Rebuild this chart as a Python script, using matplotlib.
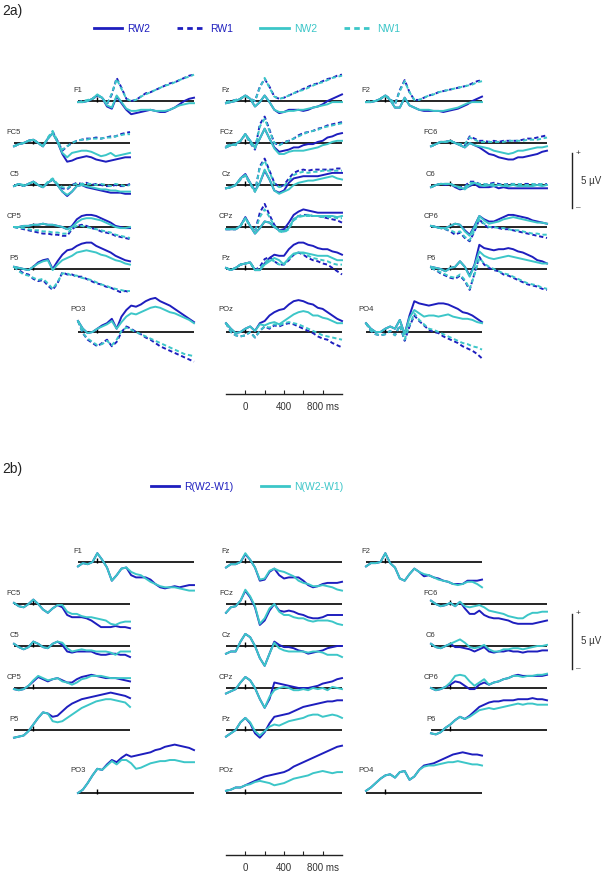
import matplotlib.pyplot as plt
from matplotlib.lines import Line2D

plt.rcParams["font.family"] = ["Liberation Sans", "DejaVu Sans"]

# ---- data: ERP amplitudes (µV), sampled every 50 ms from -200 to 1000 ms ----
TIMES = list(range(-200, 1001, 50))

RW2 = {
    "F1":  [-0.1,-0.1,0.0,0.2,0.5,0.3,-0.5,-0.7,0.4,-0.2,-0.8,-1.2,-1.1,-1.0,-0.9,-0.8,-0.9,-1.0,-1.0,-0.8,-0.6,-0.3,0.0,0.2,0.3],
    "Fz":  [-0.2,-0.1,0.0,0.2,0.5,0.2,-0.5,-0.1,0.5,-0.1,-0.8,-1.1,-1.0,-0.8,-0.8,-0.8,-0.9,-0.8,-0.6,-0.5,-0.3,0.0,0.2,0.4,0.6],
    "F2":  [-0.1,-0.1,0.0,0.2,0.5,0.1,-0.6,-0.6,0.3,-0.4,-0.6,-0.8,-0.9,-0.9,-0.9,-0.9,-1.0,-0.9,-0.8,-0.7,-0.5,-0.3,0.0,0.2,0.4],
    "FC5": [-0.3,-0.1,0.0,0.2,0.3,0.0,-0.3,0.4,0.9,0.1,-1.0,-1.7,-1.6,-1.4,-1.3,-1.2,-1.3,-1.5,-1.6,-1.7,-1.6,-1.5,-1.4,-1.3,-1.3],
    "FCz": [-0.4,-0.2,-0.1,0.2,0.8,0.2,-0.4,0.4,1.3,0.4,-0.4,-0.8,-0.7,-0.6,-0.4,-0.4,-0.2,-0.1,-0.1,0.1,0.2,0.5,0.6,0.8,0.9],
    "FC6": [-0.3,-0.1,0.1,0.1,0.2,0.0,-0.2,-0.4,0.0,-0.2,-0.4,-0.7,-1.0,-1.1,-1.3,-1.4,-1.5,-1.5,-1.3,-1.3,-1.2,-1.1,-1.0,-0.8,-0.7],
    "C5":  [-0.1,0.1,-0.1,0.1,0.3,0.0,-0.2,0.2,0.5,0.0,-0.6,-1.0,-0.6,-0.1,0.0,-0.2,-0.3,-0.4,-0.5,-0.6,-0.7,-0.7,-0.7,-0.8,-0.8],
    "Cz":  [-0.3,-0.2,0.0,0.6,1.0,0.2,-0.5,0.2,1.3,0.5,-0.5,-0.7,-0.5,0.2,0.6,0.7,0.8,0.8,0.8,0.8,0.9,1.0,1.1,1.1,1.1],
    "C6":  [-0.2,0.0,0.1,0.0,0.1,-0.2,-0.4,-0.3,-0.1,0.1,-0.2,-0.2,-0.2,-0.1,-0.3,-0.2,-0.3,-0.3,-0.3,-0.3,-0.3,-0.3,-0.3,-0.3,-0.3],
    "CP5": [0.0,0.0,0.1,0.1,0.2,0.2,0.3,0.2,0.2,0.1,0.0,-0.2,0.1,0.7,1.0,1.1,1.1,1.0,0.8,0.6,0.4,0.1,0.0,-0.1,-0.1],
    "CPz": [-0.2,-0.2,-0.2,0.1,0.9,0.1,-0.6,-0.1,0.5,0.4,0.0,-0.3,-0.2,0.4,1.1,1.4,1.6,1.5,1.4,1.3,1.3,1.3,1.3,1.3,1.3],
    "CP6": [0.1,0.0,-0.1,-0.1,0.1,0.3,0.2,-0.3,-0.7,0.1,1.0,0.7,0.5,0.5,0.7,0.9,1.1,1.1,1.0,0.9,0.8,0.6,0.5,0.4,0.3],
    "P5":  [0.2,0.1,0.0,-0.1,0.2,0.6,0.8,0.9,0.0,0.7,1.3,1.7,1.8,2.1,2.3,2.4,2.4,2.1,1.9,1.7,1.5,1.2,1.0,0.8,0.7],
    "Pz":  [0.1,-0.1,0.1,0.4,0.5,0.6,-0.1,-0.1,0.5,1.0,1.3,1.2,1.2,1.8,2.2,2.4,2.4,2.2,2.1,1.9,1.8,1.8,1.6,1.5,1.3],
    "P6":  [0.2,0.1,0.0,-0.2,0.1,0.2,0.7,0.2,-0.6,0.4,2.2,1.9,1.8,1.7,1.8,1.8,1.9,1.8,1.6,1.5,1.3,1.1,0.8,0.7,0.5],
    "PO3": [1.0,0.3,-0.1,0.0,0.3,0.6,0.8,1.2,0.3,1.4,2.0,2.4,2.3,2.5,2.8,3.0,3.1,2.8,2.6,2.4,2.1,1.8,1.5,1.2,0.9],
    "POz": [0.8,0.3,-0.1,0.0,0.3,0.5,0.1,0.8,1.0,1.5,1.8,2.0,2.1,2.5,2.8,2.9,2.8,2.6,2.5,2.2,2.1,1.8,1.5,1.2,1.0],
    "PO4": [0.8,0.3,0.0,0.0,0.3,0.5,0.3,1.1,-0.2,1.5,2.8,2.6,2.5,2.4,2.5,2.6,2.6,2.5,2.3,2.1,1.8,1.7,1.5,1.2,0.9],
}

RW1 = {
    "F1":  [-0.1,0.0,0.0,0.2,0.5,0.3,-0.3,0.6,2.1,1.2,0.2,0.0,0.1,0.4,0.7,0.8,1.0,1.2,1.4,1.6,1.7,1.9,2.1,2.3,2.4],
    "Fz":  [-0.1,0.0,0.1,0.2,0.5,0.2,0.0,1.3,2.0,1.3,0.4,0.2,0.3,0.5,0.7,0.9,1.1,1.3,1.5,1.6,1.8,2.0,2.1,2.3,2.4],
    "F2":  [-0.1,0.0,0.0,0.2,0.5,0.2,-0.3,1.0,1.9,0.8,0.1,0.1,0.3,0.5,0.6,0.8,0.9,1.0,1.1,1.2,1.3,1.4,1.6,1.8,1.9],
    "FC5": [-0.3,-0.1,0.0,0.2,0.3,0.0,-0.3,0.4,1.0,0.2,-0.7,-0.3,0.0,0.2,0.3,0.4,0.4,0.5,0.4,0.5,0.6,0.6,0.8,0.9,1.0],
    "FCz": [-0.3,-0.1,-0.2,0.2,0.8,0.0,-0.6,1.7,2.4,1.2,0.0,-0.2,0.1,0.2,0.4,0.7,0.9,1.0,1.1,1.3,1.4,1.6,1.7,1.8,1.9],
    "FC6": [-0.3,-0.1,0.1,0.1,0.2,0.0,-0.1,-0.2,0.6,0.4,0.2,0.2,0.1,0.2,0.1,0.2,0.2,0.2,0.2,0.3,0.4,0.4,0.5,0.6,0.7],
    "C5":  [-0.1,0.1,-0.1,0.1,0.3,0.0,-0.2,0.2,0.5,0.0,-0.3,-0.4,0.0,0.2,0.1,0.2,0.0,0.1,0.0,-0.1,-0.1,0.0,-0.1,-0.1,0.1],
    "Cz":  [-0.3,-0.2,0.0,0.5,0.9,0.1,-0.6,1.7,2.4,1.3,0.2,-0.2,0.0,0.6,1.1,1.3,1.4,1.3,1.4,1.4,1.4,1.4,1.4,1.5,1.5],
    "C6":  [-0.2,0.0,0.1,0.1,0.1,-0.1,-0.2,-0.1,0.3,0.3,0.1,0.0,0.1,0.2,0.1,0.0,0.1,0.1,0.0,0.1,0.1,0.0,0.1,0.0,0.1],
    "CP5": [0.0,-0.1,-0.2,-0.3,-0.4,-0.5,-0.6,-0.6,-0.7,-0.7,-0.8,-0.8,-0.2,0.1,0.2,0.1,-0.1,-0.2,-0.4,-0.5,-0.6,-0.8,-0.9,-1.0,-1.1],
    "CPz": [-0.2,-0.2,-0.2,0.1,0.8,0.1,-0.4,1.3,2.1,1.1,0.2,-0.3,-0.4,-0.1,0.7,1.0,1.1,1.1,1.0,1.0,0.9,0.8,0.7,0.6,0.4],
    "CP6": [0.1,0.0,-0.1,-0.2,-0.4,-0.7,-0.5,-1.0,-1.3,-0.4,0.7,0.2,-0.1,0.0,-0.1,-0.2,-0.2,-0.3,-0.4,-0.5,-0.6,-0.7,-0.8,-0.9,-1.0],
    "P5":  [0.2,-0.1,-0.4,-0.5,-0.9,-1.1,-1.0,-1.5,-1.9,-1.3,-0.3,-0.5,-0.5,-0.7,-0.7,-0.9,-1.1,-1.3,-1.4,-1.6,-1.7,-1.9,-2.1,-2.0,-2.1],
    "Pz":  [0.1,-0.1,0.1,0.4,0.5,0.6,-0.1,0.2,0.9,1.1,0.7,0.4,0.4,0.8,1.3,1.5,1.3,1.0,0.8,0.7,0.5,0.4,0.1,-0.2,-0.5],
    "P6":  [0.1,-0.1,-0.4,-0.6,-0.8,-0.9,-0.6,-1.1,-1.9,-0.4,1.1,0.4,0.1,-0.1,-0.2,-0.5,-0.6,-0.8,-1.0,-1.2,-1.4,-1.5,-1.6,-1.8,-1.9],
    "PO3": [1.0,-0.1,-0.7,-1.0,-1.3,-1.0,-0.7,-1.3,-0.9,0.0,0.5,0.3,0.0,-0.2,-0.5,-0.7,-1.0,-1.3,-1.5,-1.7,-1.9,-2.1,-2.3,-2.5,-2.7],
    "POz": [0.8,0.0,-0.3,-0.4,-0.3,0.0,-0.5,0.1,0.5,0.3,0.6,0.5,0.7,0.8,0.7,0.5,0.3,0.1,-0.1,-0.4,-0.6,-0.7,-1.0,-1.2,-1.4],
    "PO4": [0.8,0.1,-0.2,-0.3,-0.2,0.1,-0.3,0.6,-0.8,0.5,1.5,1.0,0.6,0.2,0.0,-0.1,-0.4,-0.6,-0.8,-1.0,-1.3,-1.5,-1.7,-2.0,-2.4],
}

NW2 = {
    "F1":  [-0.1,-0.1,0.0,0.2,0.6,0.3,-0.4,-0.6,0.5,-0.1,-0.7,-0.9,-0.9,-0.8,-0.8,-0.8,-0.9,-0.9,-0.9,-0.8,-0.6,-0.4,-0.3,-0.2,-0.2],
    "Fz":  [-0.2,-0.1,0.0,0.2,0.5,0.2,-0.5,-0.1,0.5,-0.1,-0.8,-1.0,-1.0,-0.9,-0.9,-0.8,-0.8,-0.7,-0.6,-0.5,-0.4,-0.3,-0.1,-0.1,-0.1],
    "F2":  [-0.1,-0.1,0.0,0.2,0.5,0.1,-0.6,-0.6,0.3,-0.4,-0.6,-0.8,-0.8,-0.8,-0.9,-0.9,-0.9,-0.8,-0.7,-0.6,-0.4,-0.2,-0.1,-0.1,-0.1],
    "FC5": [-0.3,-0.1,0.0,0.2,0.3,0.0,-0.3,0.4,0.9,0.1,-0.9,-1.3,-0.9,-0.8,-0.7,-0.7,-0.8,-1.0,-1.2,-1.1,-0.9,-1.2,-1.1,-1.0,-0.9],
    "FCz": [-0.4,-0.2,-0.1,0.2,0.8,0.2,-0.4,0.4,1.3,0.4,-0.5,-1.0,-1.0,-0.8,-0.7,-0.7,-0.7,-0.6,-0.5,-0.4,-0.2,-0.1,0.1,0.2,0.2],
    "FC6": [-0.3,-0.1,0.1,0.1,0.2,0.0,-0.2,-0.4,0.0,-0.2,-0.3,-0.4,-0.5,-0.7,-0.8,-0.9,-1.0,-0.9,-0.7,-0.7,-0.6,-0.5,-0.4,-0.4,-0.3],
    "C5":  [-0.1,0.1,-0.1,0.1,0.3,0.0,-0.2,0.2,0.5,0.0,-0.6,-0.9,-0.6,-0.1,0.0,-0.1,-0.2,-0.3,-0.4,-0.4,-0.5,-0.5,-0.6,-0.6,-0.6],
    "Cz":  [-0.3,-0.2,0.0,0.6,0.9,0.2,-0.6,0.2,1.4,0.5,-0.5,-0.8,-0.6,-0.4,0.0,0.2,0.3,0.4,0.4,0.5,0.6,0.7,0.8,0.6,0.5],
    "C6":  [-0.2,0.0,0.1,0.1,0.1,-0.1,-0.2,-0.4,0.0,0.2,0.0,-0.1,0.0,-0.1,0.0,-0.1,-0.1,0.0,-0.1,-0.1,-0.1,-0.1,0.0,-0.1,0.0],
    "CP5": [0.0,0.0,0.1,0.1,0.2,0.2,0.3,0.2,0.2,0.1,0.0,-0.2,0.0,0.4,0.7,0.8,0.8,0.7,0.6,0.4,0.2,0.0,-0.1,-0.1,0.0],
    "CPz": [-0.2,-0.2,-0.2,0.1,0.8,0.1,-0.6,-0.1,0.5,0.4,0.0,-0.3,-0.4,-0.1,0.7,1.0,1.0,1.1,1.0,1.0,1.0,1.0,1.0,0.9,1.0],
    "CP6": [0.1,0.0,-0.1,-0.1,0.1,0.3,0.2,-0.4,-0.8,0.0,1.0,0.6,0.3,0.4,0.5,0.7,0.8,0.9,0.8,0.7,0.6,0.5,0.4,0.4,0.3],
    "P5":  [0.2,0.1,0.0,-0.1,0.2,0.5,0.7,0.8,-0.1,0.4,0.8,1.0,1.2,1.5,1.6,1.7,1.6,1.5,1.3,1.2,1.0,0.8,0.7,0.5,0.4],
    "Pz":  [0.1,-0.1,0.1,0.4,0.5,0.6,-0.1,-0.1,0.4,0.7,1.0,0.8,0.4,1.0,1.4,1.5,1.5,1.4,1.3,1.2,1.2,1.2,1.0,0.8,0.8],
    "P6":  [0.2,0.1,0.0,-0.2,0.1,0.2,0.7,0.2,-0.7,0.3,1.6,1.2,1.0,0.9,1.0,1.1,1.2,1.1,1.0,0.9,0.8,0.7,0.6,0.5,0.5],
    "PO3": [1.0,0.3,-0.1,0.0,0.3,0.5,0.7,1.0,0.3,0.9,1.4,1.7,1.6,1.8,2.0,2.2,2.3,2.2,2.0,1.8,1.7,1.5,1.3,1.1,0.8],
    "POz": [0.8,0.3,-0.1,0.0,0.3,0.5,0.1,0.7,0.6,0.8,0.9,0.7,1.0,1.3,1.6,1.8,1.9,1.8,1.5,1.5,1.3,1.2,1.0,0.8,0.8],
    "PO4": [0.8,0.3,0.0,0.0,0.3,0.5,0.3,1.1,-0.2,1.3,2.0,1.7,1.4,1.5,1.5,1.4,1.5,1.6,1.4,1.3,1.2,1.2,1.1,0.9,0.8],
}

NW1 = {
    "F1":  [-0.1,0.0,0.1,0.2,0.5,0.3,-0.3,0.7,2.0,1.1,0.2,0.0,0.1,0.4,0.6,0.8,1.0,1.2,1.4,1.5,1.7,1.9,2.1,2.2,2.4],
    "Fz":  [-0.1,0.0,0.1,0.2,0.5,0.2,0.0,1.2,2.1,1.2,0.4,0.2,0.3,0.5,0.7,0.9,1.0,1.2,1.4,1.6,1.7,1.9,2.1,2.2,2.3],
    "F2":  [-0.1,0.0,0.0,0.2,0.5,0.2,-0.3,0.9,1.8,0.8,0.1,0.1,0.3,0.5,0.6,0.8,0.9,1.0,1.1,1.2,1.3,1.4,1.5,1.7,1.8],
    "FC5": [-0.3,-0.1,0.0,0.2,0.3,0.0,-0.3,0.5,1.1,0.2,-0.6,-0.3,0.0,0.2,0.3,0.3,0.4,0.4,0.4,0.5,0.5,0.6,0.7,0.8,0.8],
    "FCz": [-0.3,-0.1,-0.2,0.2,0.8,0.0,-0.5,1.5,2.2,1.1,0.0,-0.2,0.0,0.2,0.4,0.6,0.8,1.0,1.1,1.2,1.4,1.5,1.6,1.7,1.8],
    "FC6": [-0.3,-0.1,0.1,0.1,0.2,0.0,-0.1,-0.1,0.5,0.3,0.1,0.1,0.1,0.1,0.1,0.1,0.2,0.2,0.2,0.2,0.3,0.3,0.3,0.4,0.5],
    "C5":  [-0.1,0.1,0.0,0.1,0.3,0.0,-0.2,0.3,0.6,0.1,-0.2,-0.3,0.0,0.1,0.1,0.1,0.1,0.0,0.1,0.0,-0.1,0.1,0.0,-0.1,0.0],
    "Cz":  [-0.3,-0.2,0.0,0.5,0.9,0.1,-0.6,1.6,2.2,1.2,0.1,-0.2,-0.1,0.4,0.9,1.1,1.2,1.1,1.2,1.2,1.3,1.3,1.3,1.3,1.3],
    "C6":  [-0.2,0.0,0.1,0.1,0.1,-0.1,-0.3,-0.2,0.2,0.2,0.1,0.1,0.0,0.1,0.0,0.1,0.0,0.1,0.1,0.0,0.0,0.1,0.0,0.1,0.0],
    "CP5": [0.0,-0.1,-0.1,-0.2,-0.3,-0.3,-0.4,-0.4,-0.5,-0.5,-0.6,-0.6,-0.1,0.1,0.1,0.0,-0.1,-0.2,-0.3,-0.4,-0.5,-0.7,-0.8,-0.9,-1.0],
    "CPz": [-0.2,-0.2,-0.2,0.1,0.8,0.1,-0.4,0.9,1.6,0.9,0.1,-0.4,-0.5,-0.2,0.6,0.9,1.0,1.0,1.0,1.0,0.9,0.9,0.9,0.8,0.8],
    "CP6": [0.1,0.0,-0.1,-0.2,-0.3,-0.5,-0.4,-0.9,-1.2,-0.3,0.7,0.3,0.0,0.0,-0.1,-0.1,-0.2,-0.3,-0.3,-0.4,-0.5,-0.6,-0.6,-0.7,-0.7],
    "P5":  [0.2,-0.2,-0.5,-0.6,-0.8,-1.0,-0.9,-1.3,-1.8,-1.2,-0.4,-0.4,-0.6,-0.6,-0.8,-0.9,-1.0,-1.2,-1.4,-1.5,-1.7,-1.8,-1.9,-2.0,-2.0],
    "Pz":  [0.1,-0.1,0.1,0.4,0.5,0.6,-0.1,0.0,0.6,0.9,0.7,0.4,0.5,0.9,1.3,1.5,1.4,1.2,1.0,0.9,0.8,0.7,0.5,0.4,0.4],
    "P6":  [0.1,-0.1,-0.3,-0.5,-0.7,-0.8,-0.5,-1.0,-1.8,-0.5,1.0,0.5,0.2,0.0,-0.2,-0.4,-0.5,-0.7,-0.9,-1.1,-1.3,-1.4,-1.5,-1.7,-1.8],
    "PO3": [1.0,-0.1,-0.6,-0.9,-1.2,-1.1,-0.8,-1.2,-0.7,0.1,0.4,0.2,0.0,-0.2,-0.4,-0.6,-0.8,-1.0,-1.2,-1.4,-1.6,-1.8,-2.0,-2.1,-2.2],
    "POz": [0.8,0.0,-0.3,-0.4,-0.3,0.0,-0.5,0.1,0.5,0.4,0.7,0.6,0.8,0.9,0.8,0.7,0.5,0.3,0.1,-0.1,-0.3,-0.4,-0.5,-0.6,-0.7],
    "PO4": [0.8,0.1,-0.2,-0.3,-0.2,0.1,-0.3,0.6,-0.7,0.6,1.7,1.1,0.7,0.3,0.2,0.0,-0.2,-0.4,-0.6,-0.8,-1.0,-1.1,-1.3,-1.4,-1.6],
}

# difference waves (W2 - W1), panel 2b
R_DIFF = {
    "F1":  [-0.4,-0.1,-0.2,0.0,0.8,0.2,-0.5,-1.7,-1.2,-0.6,-0.5,-1.2,-1.4,-1.4,-1.4,-1.6,-2.0,-2.3,-2.4,-2.3,-2.2,-2.3,-2.2,-2.1,-2.1],
    "Fz":  [-0.5,-0.2,-0.2,0.0,0.7,0.2,-0.5,-1.7,-1.6,-0.9,-0.6,-1.2,-1.5,-1.4,-1.4,-1.4,-1.7,-2.1,-2.3,-2.2,-2.0,-1.9,-1.9,-1.9,-1.8],
    "F2":  [-0.4,-0.1,-0.1,0.0,0.8,-0.1,-0.5,-1.5,-1.7,-1.1,-0.6,-0.9,-1.3,-1.2,-1.4,-1.5,-1.7,-1.8,-2.0,-2.0,-2.0,-1.7,-1.7,-1.7,-1.6],
    "FC5": [0.1,-0.2,-0.3,0.0,0.4,0.0,-0.5,-0.8,-0.4,-0.1,-0.3,-1.0,-1.2,-1.2,-1.2,-1.3,-1.5,-1.8,-2.1,-2.1,-2.1,-2.0,-2.1,-2.1,-2.2],
    "FCz": [-0.8,-0.3,-0.2,0.3,1.2,0.6,-0.3,-1.9,-1.5,-0.6,0.0,-0.6,-0.7,-0.6,-0.7,-0.9,-1.0,-1.2,-1.3,-1.3,-1.2,-1.0,-1.0,-1.0,-1.0],
    "FC6": [0.3,0.0,-0.2,-0.1,0.1,-0.2,0.2,-0.4,-0.9,-0.9,-0.6,-1.0,-1.2,-1.3,-1.3,-1.4,-1.5,-1.7,-1.8,-1.8,-1.8,-1.8,-1.7,-1.6,-1.5],
    "C5":  [0.2,-0.1,-0.3,-0.1,0.4,0.2,-0.1,-0.2,0.2,0.4,0.1,-0.5,-0.6,-0.5,-0.5,-0.5,-0.5,-0.7,-0.8,-0.8,-0.7,-0.7,-0.8,-0.8,-1.0],
    "Cz":  [-0.7,-0.5,-0.5,0.4,1.1,0.8,0.0,-1.1,-1.8,-0.7,0.4,0.1,-0.1,-0.1,-0.2,-0.4,-0.5,-0.7,-0.6,-0.5,-0.4,-0.2,-0.1,0.0,0.0],
    "C6":  [0.2,-0.1,-0.2,0.0,0.2,-0.1,-0.1,-0.2,-0.3,-0.5,-0.3,-0.1,-0.5,-0.6,-0.5,-0.5,-0.4,-0.5,-0.5,-0.6,-0.5,-0.5,-0.5,-0.4,-0.4],
    "CP5": [-0.1,-0.2,-0.1,0.2,0.6,1.0,0.8,0.6,0.8,0.9,0.7,0.5,0.5,0.8,1.0,1.1,1.2,1.1,1.0,0.9,0.9,0.9,0.8,0.7,0.6],
    "CPz": [-0.5,-0.3,-0.1,0.5,1.0,0.7,0.0,-1.0,-1.8,-1.0,0.5,0.4,0.3,0.2,0.1,0.0,0.0,0.0,0.1,0.2,0.4,0.5,0.6,0.8,0.9],
    "CP6": [0.0,-0.2,-0.1,0.1,0.3,0.6,0.5,0.2,-0.1,-0.1,0.3,0.5,0.3,0.5,0.6,0.8,0.9,1.1,1.2,1.1,1.1,1.1,1.1,1.1,1.2],
    "P5":  [-0.7,-0.6,-0.5,-0.1,0.5,1.1,1.6,1.5,1.2,1.3,1.7,2.1,2.4,2.6,2.8,2.9,3.0,3.1,3.2,3.3,3.4,3.3,3.2,3.1,2.9],
    "Pz":  [-0.6,-0.3,0.0,0.7,1.1,0.6,-0.3,-0.7,-0.2,0.6,1.2,1.3,1.4,1.5,1.7,1.9,2.1,2.2,2.3,2.4,2.5,2.6,2.6,2.7,2.7],
    "P6":  [-0.3,-0.4,-0.2,0.2,0.5,0.9,1.2,1.0,1.3,1.7,2.1,2.3,2.5,2.6,2.6,2.7,2.7,2.7,2.8,2.8,2.8,2.9,2.8,2.8,2.7],
    "PO3": [0.0,0.3,0.9,1.6,2.2,2.1,2.6,3.0,2.8,3.2,3.5,3.3,3.4,3.5,3.6,3.7,3.9,4.0,4.2,4.3,4.4,4.3,4.2,4.1,3.9],
    "POz": [0.2,0.3,0.5,0.5,0.7,0.9,1.1,1.3,1.5,1.6,1.7,1.8,1.9,2.1,2.4,2.6,2.8,3.0,3.2,3.4,3.6,3.8,4.0,4.2,4.3],
    "PO4": [0.2,0.5,0.9,1.3,1.6,1.7,1.4,1.9,2.0,1.2,1.5,2.1,2.5,2.6,2.7,2.9,3.1,3.3,3.5,3.6,3.7,3.6,3.5,3.5,3.4],
}

N_DIFF = {
    "F1":  [-0.4,-0.1,-0.2,0.0,0.8,0.2,-0.5,-1.7,-1.2,-0.6,-0.5,-0.9,-1.1,-1.2,-1.5,-1.8,-2.0,-2.2,-2.3,-2.3,-2.3,-2.4,-2.5,-2.6,-2.6],
    "Fz":  [-0.5,-0.2,-0.2,0.0,0.8,0.2,-0.5,-1.6,-1.5,-0.8,-0.6,-0.8,-0.9,-1.1,-1.3,-1.7,-1.9,-2.0,-2.2,-2.2,-2.1,-2.2,-2.3,-2.5,-2.6],
    "F2":  [-0.4,-0.1,-0.1,0.0,0.8,-0.1,-0.5,-1.5,-1.7,-1.1,-0.6,-0.9,-1.1,-1.2,-1.4,-1.6,-1.7,-1.8,-2.0,-2.1,-2.0,-1.8,-1.8,-2.0,-2.3],
    "FC5": [0.1,-0.2,-0.3,0.0,0.4,0.0,-0.5,-0.8,-0.4,-0.1,-0.1,-0.7,-0.9,-0.9,-1.1,-1.2,-1.2,-1.3,-1.4,-1.5,-1.8,-1.9,-1.7,-1.6,-1.6],
    "FCz": [-0.8,-0.3,-0.2,0.3,1.3,0.7,-0.2,-1.8,-1.3,-0.4,0.0,-0.7,-1.0,-1.0,-1.2,-1.3,-1.3,-1.5,-1.6,-1.5,-1.5,-1.5,-1.6,-1.8,-1.9],
    "FC6": [0.3,0.0,-0.2,-0.1,0.1,-0.2,0.2,-0.2,-0.3,-0.2,-0.1,-0.3,-0.6,-0.7,-0.8,-0.9,-1.1,-1.2,-1.3,-1.3,-1.0,-0.8,-0.8,-0.7,-0.7],
    "C5":  [0.2,-0.1,-0.3,-0.1,0.4,0.2,-0.1,-0.2,0.2,0.4,0.3,-0.2,-0.5,-0.4,-0.3,-0.4,-0.4,-0.5,-0.5,-0.5,-0.6,-0.8,-0.5,-0.5,-0.5],
    "Cz":  [-0.7,-0.5,-0.5,0.4,1.1,0.8,0.0,-1.1,-1.8,-0.7,0.3,-0.2,-0.4,-0.5,-0.5,-0.5,-0.5,-0.6,-0.5,-0.5,-0.6,-0.8,-0.8,-0.8,-1.0],
    "C6":  [0.2,-0.1,-0.2,0.0,0.2,0.4,0.6,0.3,-0.1,-0.2,-0.1,0.1,-0.3,-0.5,-0.5,-0.3,-0.3,-0.2,-0.2,-0.3,-0.2,-0.1,0.0,0.0,0.1],
    "CP5": [-0.1,-0.2,-0.1,0.2,0.7,1.1,0.9,0.7,0.8,0.9,0.6,0.5,0.3,0.5,0.8,0.9,1.1,1.1,1.1,1.0,0.9,0.9,0.9,0.9,0.9],
    "CPz": [-0.5,-0.3,-0.1,0.5,1.0,0.7,0.0,-1.0,-1.8,-0.8,-0.2,0.0,0.1,0.0,-0.2,-0.2,-0.1,-0.2,0.0,-0.1,0.0,-0.2,0.1,0.0,-0.1],
    "CP6": [0.0,-0.2,-0.1,0.1,0.5,1.1,1.2,1.1,0.6,0.2,0.5,0.8,0.3,0.5,0.6,0.8,0.9,1.1,1.1,1.0,1.1,1.1,1.2,1.2,1.3],
    "P5":  [-0.7,-0.6,-0.5,-0.1,0.5,1.1,1.6,1.5,0.8,0.7,0.8,1.1,1.4,1.7,2.0,2.2,2.4,2.6,2.7,2.8,2.8,2.7,2.6,2.5,2.1],
    "Pz":  [-0.6,-0.3,0.0,0.7,1.1,0.7,-0.1,-0.5,-0.1,0.3,0.5,0.4,0.6,0.8,0.9,1.0,1.1,1.3,1.4,1.4,1.2,1.3,1.4,1.3,1.1],
    "P6":  [-0.3,-0.4,-0.2,0.2,0.5,0.9,1.2,1.0,1.2,1.5,1.8,1.9,2.0,1.9,2.0,2.1,2.2,2.3,2.4,2.3,2.4,2.4,2.3,2.3,2.3],
    "PO3": [0.0,0.3,0.9,1.6,2.2,2.1,2.5,2.9,2.6,3.0,3.0,2.7,2.2,2.3,2.5,2.7,2.8,2.9,2.9,3.0,3.0,2.9,2.8,2.8,2.8],
    "POz": [0.2,0.3,0.5,0.5,0.7,0.8,1.0,1.1,1.0,0.9,0.7,0.8,0.9,1.1,1.3,1.4,1.5,1.6,1.8,1.9,2.0,1.9,1.8,1.9,1.9],
    "PO4": [0.2,0.5,0.9,1.3,1.6,1.7,1.4,1.9,2.0,1.2,1.5,2.1,2.4,2.5,2.5,2.6,2.7,2.8,2.8,2.9,2.8,2.7,2.6,2.6,2.5],
}

TIME_TICKS = [0, 200, 400, 600, 800]
TIME_LABELS = ["0", "", "400", "", "800 ms"]
SCALE_UV = 5

# ---- layout (pixels of the 603x876 figure) ----
W, H = 603, 876
PX_PER_UV = 11.0
WIN_W = 116          # width of one -200..1000 ms window
AX_H = 100           # height of each channel axes
PANEL_B_SHIFT = 461  # vertical offset of panel 2b

COL = {"lo": 14, "li": 78, "mid": 226, "ri": 366, "ro": 431}
ROW = {"F": 101, "FC": 143, "C": 185, "CP": 227, "P": 269, "PO": 332}
LAYOUT = {
    "F1": ("li", "F"), "Fz": ("mid", "F"), "F2": ("ri", "F"),
    "FC5": ("lo", "FC"), "FCz": ("mid", "FC"), "FC6": ("ro", "FC"),
    "C5": ("lo", "C"), "Cz": ("mid", "C"), "C6": ("ro", "C"),
    "CP5": ("lo", "CP"), "CPz": ("mid", "CP"), "CP6": ("ro", "CP"),
    "P5": ("lo", "P"), "Pz": ("mid", "P"), "P6": ("ro", "P"),
    "PO3": ("li", "PO"), "POz": ("mid", "PO"), "PO4": ("ri", "PO"),
}

DARK = "#1e1ebe"
CYAN = "#3cc6c8"
TEXT = "#333333"
DASH = (2.2, 1.4)
LW = 1.4

fig = plt.figure(figsize=(W / 100, H / 100), dpi=100)


def px_axes(left, top, width, height):
    ax = fig.add_axes([left / W, 1 - (top + height) / H, width / W, height / H])
    ax.patch.set_visible(False)
    return ax


def channel_axes(name, shift):
    col, row = LAYOUT[name]
    yb = ROW[row] + shift
    ax = px_axes(COL[col], yb - AX_H / 2, WIN_W, AX_H)
    half = AX_H / 2 / PX_PER_UV
    ax.set_xlim(-200, 1000)
    ax.set_ylim(-half, half)
    ax.axis("off")
    ax.axhline(0, color="black", lw=1.2, zorder=1)
    ax.vlines(0, -0.1, 0.35, color="black", lw=1.0, zorder=1)
    lab_off = (21 if row == "PO" else 9) / PX_PER_UV
    ax.text(-200, lab_off, name, ha="center", va="baseline",
            fontsize=5.5, color=TEXT)
    return ax


def time_scale(shift):
    ax = px_axes(COL["mid"], 384 + shift, WIN_W, 10)
    ax.set_xlim(-200, 1000)
    for s in ("top", "left", "right"):
        ax.spines[s].set_visible(False)
    ax.spines["bottom"].set_linewidth(1.0)
    ax.spines["bottom"].set_color("#222222")
    ax.set_yticks([])
    ax.set_xticks(TIME_TICKS)
    ax.set_xticklabels(TIME_LABELS)
    ax.tick_params(axis="x", direction="in", length=3, width=0.8,
                   pad=6, labelsize=7, colors="#222222", labelcolor=TEXT)


def volt_scale(shift):
    h = SCALE_UV * PX_PER_UV
    ax = px_axes(572, 208 + shift - h, 30, h)
    ax.set_xlim(0, 30)
    ax.set_ylim(0, SCALE_UV)
    ax.axis("off")
    ax.plot([0, 0], [0, SCALE_UV], color="#222222", lw=1.0, clip_on=False)
    ax.text(6, SCALE_UV, "+", fontsize=6, ha="center", va="center", color=TEXT)
    ax.text(6, 0, "\u2013", fontsize=6, ha="center", va="center", color=TEXT)
    ax.text(9, SCALE_UV / 2, "5 \u00b5V", fontsize=7, ha="left",
            va="center", color=TEXT)


# ---- panel 2a ----
for name in LAYOUT:
    ax = channel_axes(name, 0)
    ax.plot(TIMES, RW2[name], color=DARK, lw=LW, clip_on=False)
    ax.plot(TIMES, RW1[name], color=DARK, lw=LW, dashes=DASH, clip_on=False)
    ax.plot(TIMES, NW2[name], color=CYAN, lw=LW, clip_on=False)
    ax.plot(TIMES, NW1[name], color=CYAN, lw=LW, dashes=DASH, clip_on=False)
time_scale(0)
volt_scale(0)

# ---- panel 2b ----
for name in LAYOUT:
    ax = channel_axes(name, PANEL_B_SHIFT)
    ax.plot(TIMES, R_DIFF[name], color=DARK, lw=LW, clip_on=False)
    ax.plot(TIMES, N_DIFF[name], color=CYAN, lw=LW, clip_on=False)
time_scale(PANEL_B_SHIFT)
volt_scale(PANEL_B_SHIFT)


def legend(labels, colors, styles, y_px):
    handles = [Line2D([], [], color=c, lw=2.0, dashes=s) if s else
               Line2D([], [], color=c, lw=2.0)
               for c, s in zip(colors, styles)]
    leg = fig.legend(handles, labels, loc="center",
                     bbox_to_anchor=(247 / W, 1 - y_px / H),
                     ncol=len(labels), frameon=False, fontsize=7.5,
                     handlelength=2.7, handletextpad=0.5,
                     columnspacing=2.6, borderpad=0)
    for t, c in zip(leg.get_texts(), colors):
        t.set_color(c)


legend(["RW2", "RW1", "NW2", "NW1"], [DARK, DARK, CYAN, CYAN],
       [None, (2.0, 1.5), None, (2.0, 1.5)], 29)
legend(["R(W2-W1)", "N(W2-W1)"], [DARK, CYAN], [None, None], 487)

fig.text(2 / W, 1 - 4 / H, "2a)", fontsize=10, va="top", ha="left", color="#222222")
fig.text(2 / W, 1 - 462 / H, "2b)", fontsize=10, va="top", ha="left", color="#222222")

fig.savefig("out.png", dpi=100)
